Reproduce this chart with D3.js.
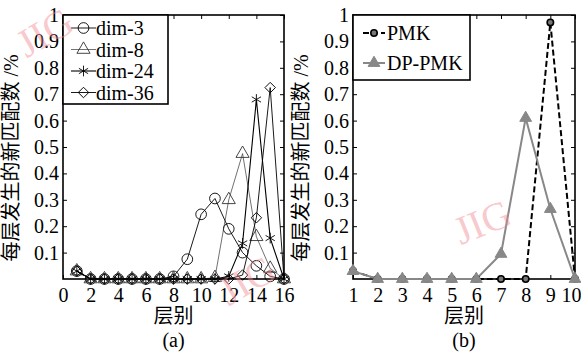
<!DOCTYPE html>
<html>
<head>
<meta charset="utf-8">
<script src="https://cdn.jsdelivr.net/npm/d3@7"></script>
<style>
	body { margin: 0; background: #fff; }
	svg { display: block; }
	text { font-family: "Liberation Serif", "Times New Roman", Times, "DejaVu Serif", "Noto Sans CJK SC", serif; fill: #000; }
</style>
</head>
<body>
<div id="chart"></div>
<script>
// panel (a)
const layersA = [1, 2, 3, 4, 5, 6, 7, 8, 9, 10, 11, 12, 13, 14, 15, 16];
const dim3  = [0.03, 0, 0, 0, 0, 0, 0, 0.01, 0.075, 0.245, 0.305, 0.19, 0.1, 0.05, 0.01, 0];
const dim8  = [0.03, 0, 0, 0, 0, 0, 0, 0, 0, 0, 0.005, 0.3, 0.475, 0.16, 0.04, 0];
const dim24 = [0.03, 0, 0, 0, 0, 0, 0, 0, 0, 0, 0, 0.01, 0.135, 0.68, 0.155, 0];
const dim36 = [0.03, 0, 0, 0, 0, 0, 0, 0, 0, 0, 0, 0, 0.015, 0.232, 0.725, 0];
const ticksXA = [0, 2, 4, 6, 8, 10, 12, 14, 16];

// panel (b)
const layersB = [1, 2, 3, 4, 5, 6, 7, 8, 9, 10];
const pmk   = [0.03, 0, 0, 0, 0, 0, 0, 0, 0.972, 0];
const dppmk = [0.03, 0, 0, 0, 0, 0, 0.095, 0.61, 0.265, 0];

const ticksY = [0.1, 0.2, 0.3, 0.4, 0.5, 0.6, 0.7, 0.8, 0.9, 1];
const yLabel = "每层发生的新匹配数 /%";
const xLabel = "层别";

const W = 581, H = 352;
const plotTop = 15, plotBottom = 279;
const serif = "'Liberation Serif', 'Times New Roman', Times, serif";

const svg = d3.select("#chart").append("svg")
	.attr("width", W).attr("height", H);

const y = d3.scaleLinear().domain([0, 1]).range([plotBottom, plotTop]);

function panel(left, right, xDomain, xTicks, cap) {
	const x = d3.scaleLinear().domain(xDomain).range([left, right]);
	const g = svg.append("g");

	g.append("g")
		.attr("class", "xb")
		.attr("transform", `translate(0,${plotBottom})`)
		.call(d3.axisBottom(x).tickValues(xTicks).tickSizeInner(-4).tickSizeOuter(0).tickPadding(9).tickFormat(d3.format("d")));
	g.append("g")
		.attr("transform", `translate(0,${plotTop})`)
		.call(d3.axisTop(x).tickValues(xTicks).tickSizeInner(-4).tickSizeOuter(0).tickFormat(""));
	g.append("g")
		.attr("transform", `translate(${left},0)`)
		.call(d3.axisLeft(y).tickValues(ticksY).tickSizeInner(-4).tickSizeOuter(0).tickPadding(4).tickFormat(d => d === 1 ? "1" : d3.format(".1f")(d)));
	g.append("g")
		.attr("transform", `translate(${right},0)`)
		.call(d3.axisRight(y).tickValues(ticksY).tickSizeInner(-4).tickSizeOuter(0).tickFormat(""));
	g.selectAll(".domain").remove();
	g.selectAll("g").attr("font-family", null);
	g.selectAll(".tick line").attr("stroke", "#000");
	g.selectAll(".tick text").attr("font-size", 20).style("font-family", serif);

	g.append("rect")
		.attr("x", left).attr("y", plotTop)
		.attr("width", right - left).attr("height", plotBottom - plotTop)
		.attr("fill", "none").attr("stroke", "#000").attr("stroke-width", 1.6);

	const cx = (left + right) / 2;
	g.append("text").attr("x", cx).attr("y", 323).attr("text-anchor", "middle")
		.attr("font-size", 20).text(xLabel);
	g.append("text").attr("x", cx).attr("y", 347).attr("text-anchor", "middle")
		.attr("font-size", 20).style("font-family", serif).text(cap);
	g.append("text")
		.attr("transform", `translate(${left - 45},158) rotate(-90)`)
		.attr("text-anchor", "middle")
		.attr("font-size", 20).text(yLabel);
	return { x, g };
}

function marker(sel, type, size) {
	const sym = {
		circle: d3.symbolCircle, triangle: d3.symbolTriangle,
		star: d3.symbolAsterisk, diamond: d3.symbolSquare
	}[type];
	const p = sel.append("path").attr("d", d3.symbol(sym, size)());
	if (type === "diamond") p.attr("transform", "rotate(45)");
	return p;
}

// ----- panel (a)
const A = panel(63, 284, [0, 16], ticksXA, "(a)");
const seriesA = [
	{ name: "dim-3",  values: dim3,  type: "circle",   size: 90, color: "#000", width: 0.9 },
	{ name: "dim-8",  values: dim8,  type: "triangle", size: 75, color: "#333", width: 0.7 },
	{ name: "dim-24", values: dim24, type: "star",     size: 80, color: "#000", width: 1.1 },
	{ name: "dim-36", values: dim36, type: "diamond",  size: 55, color: "#000", width: 0.9 }
];
const lineA = d3.line().x((d, i) => A.x(layersA[i])).y(d => y(d));
seriesA.forEach(s => {
	A.g.append("path").attr("d", lineA(s.values))
		.attr("fill", "none").attr("stroke", s.color).attr("stroke-width", s.width);
	s.values.forEach((v, i) => {
		const m = A.g.append("g").attr("transform", `translate(${A.x(layersA[i])},${y(v)})`);
		marker(m, s.type, s.size).attr("fill", "none").attr("stroke", s.color).attr("stroke-width", 0.9);
	});
});

// legend (a)
const legA = A.g.append("g");
legA.append("rect").attr("x", 63).attr("y", 15).attr("width", 105).attr("height", 89)
	.attr("fill", "#fff").attr("stroke", "#000").attr("stroke-width", 1.6);
seriesA.forEach((s, i) => {
	const ly = 28 + i * 21.5;
	legA.append("line").attr("x1", 71).attr("x2", 96).attr("y1", ly).attr("y2", ly)
		.attr("stroke", s.color).attr("stroke-width", s.width);
	const m = legA.append("g").attr("transform", `translate(83.5,${ly})`);
	marker(m, s.type, s.size).attr("fill", "none").attr("stroke", s.color).attr("stroke-width", 0.9);
	legA.append("text").attr("x", 96).attr("y", ly + 7).attr("font-size", 20)
		.style("font-family", serif).text(s.name);
});

// ----- panel (b)
const B = panel(353, 575, [1, 10], layersB, "(b)");
// the last label sits against the edge in the reference
B.g.select(".xb").selectAll(".tick text").filter(d => d === 10).attr("dx", -4);
const lineB = d3.line().x((d, i) => B.x(layersB[i])).y(d => y(d));
B.g.append("path").attr("d", lineB(pmk))
	.attr("fill", "none").attr("stroke", "#000").attr("stroke-width", 2).attr("stroke-dasharray", "6,3");
B.g.append("path").attr("d", lineB(dppmk))
	.attr("fill", "none").attr("stroke", "#888").attr("stroke-width", 2);
pmk.forEach((v, i) => {
	B.g.append("circle").attr("cx", B.x(layersB[i])).attr("cy", y(v)).attr("r", 3.2)
		.attr("fill", "#777").attr("stroke", "#000").attr("stroke-width", 1.6);
});
dppmk.forEach((v, i) => {
	const m = B.g.append("g").attr("transform", `translate(${B.x(layersB[i])},${y(v)})`);
	marker(m, "triangle", 60).attr("fill", "#888").attr("stroke", "#888");
});

// legend (b)
const legB = B.g.append("g");
legB.append("rect").attr("x", 353).attr("y", 15).attr("width", 117).attr("height", 65)
	.attr("fill", "#fff").attr("stroke", "#000").attr("stroke-width", 1.6);
[
	{ name: "PMK", ly: 33 },
	{ name: "DP-PMK", ly: 63 }
].forEach((s, i) => {
	if (i === 0) {
		legB.append("line").attr("x1", 363).attr("x2", 385).attr("y1", s.ly).attr("y2", s.ly)
			.attr("stroke", "#000").attr("stroke-width", 2).attr("stroke-dasharray", "6,3");
		legB.append("circle").attr("cx", 374).attr("cy", s.ly).attr("r", 3.2)
			.attr("fill", "#777").attr("stroke", "#000").attr("stroke-width", 1.6);
	} else {
		legB.append("line").attr("x1", 363).attr("x2", 385).attr("y1", s.ly).attr("y2", s.ly)
			.attr("stroke", "#888").attr("stroke-width", 2);
		const m = legB.append("g").attr("transform", `translate(374,${s.ly})`);
		marker(m, "triangle", 60).attr("fill", "#888").attr("stroke", "#888");
	}
	legB.append("text").attr("x", 387).attr("y", s.ly + 7).attr("font-size", 20)
		.style("font-family", serif).text(s.name);
});

// watermarks, stamped over the figure
[[47, 36, -30], [249, 284, -30], [484, 226, -22]].forEach(([x, y, r]) => {
	svg.append("text")
		.attr("transform", `translate(${x},${y}) rotate(${r})`)
		.attr("text-anchor", "middle")
		.attr("dominant-baseline", "middle")
		.attr("font-size", 40)
		.style("font-family", serif)
		.style("fill", "#f08890")
		.style("fill-opacity", 0.45)
		.text("JIG");
});
</script>
</body>
</html>
